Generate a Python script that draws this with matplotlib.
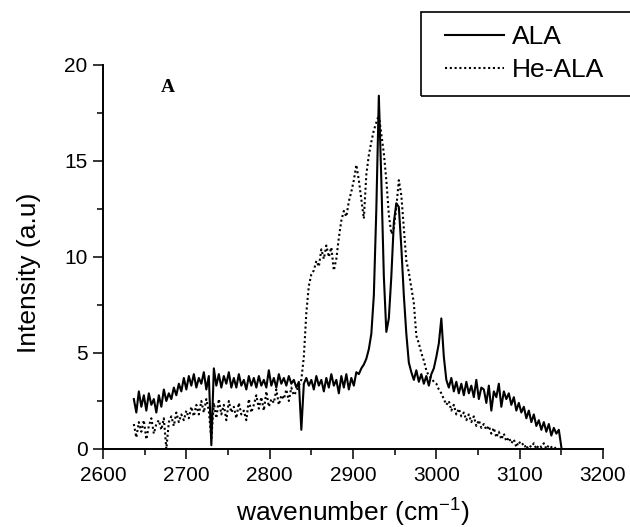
import matplotlib
matplotlib.use('Agg')
import matplotlib.pyplot as plt
from matplotlib.patches import Rectangle

plt.rcParams['font.family'] = ['Liberation Sans', 'DejaVu Sans']

wavenumber = list(range(2637, 3151, 3))

# ALA spectrum (solid line)
ala = [
    2.6, 1.9, 3.0, 2.2, 2.8, 2.0, 2.9, 2.3, 2.6, 1.9,
    2.8, 2.2, 3.1, 2.5, 2.9, 2.6, 3.2, 2.8, 3.4, 3.0,
    3.7, 3.1, 3.8, 3.3, 3.9, 3.2, 3.7, 3.4, 4.0, 3.1,
    3.8, 0.2, 4.2, 3.3, 3.9, 3.2, 3.8, 3.4, 4.0, 3.2,
    3.7, 3.2, 3.9, 3.3, 3.6, 3.1, 3.8, 3.3, 3.7, 3.2,
    3.8, 3.3, 3.6, 3.2, 4.1, 3.3, 3.7, 3.2, 3.9, 3.4,
    3.7, 3.3, 3.8, 3.4, 3.6, 3.2, 3.5, 1.0, 3.4, 3.7,
    3.3, 3.6, 3.1, 3.8, 3.3, 3.6, 3.0, 3.7, 3.2, 3.9,
    3.3, 3.6, 2.9, 3.8, 3.2, 3.9, 3.1, 3.7, 3.3, 4.0,
    3.9, 4.2, 4.4, 4.7, 5.2, 6.0, 8.0, 12.5, 18.4, 14.0,
    9.0, 6.1, 6.8, 9.0, 11.8, 12.8, 12.6, 10.5, 8.0, 6.0,
    4.5, 4.0, 3.6, 4.1, 3.5, 3.9, 3.4, 3.8, 3.3, 3.9,
    4.2, 4.8, 5.5, 6.8, 4.8, 3.6, 3.2, 3.7, 3.0, 3.5,
    2.9, 3.4, 2.8, 3.5, 2.9, 3.3, 2.7, 3.6, 2.6, 3.2,
    3.1, 2.4, 3.3, 2.0, 3.0, 2.7, 3.4, 2.2, 3.0, 2.6,
    2.9, 2.3, 2.7, 2.0, 2.4, 1.9, 2.2, 1.6, 2.0, 1.4,
    1.8, 1.2, 1.5, 1.0, 1.4, 0.9, 1.3, 0.7, 1.1, 0.8,
    1.0, 0.1,
]

# He-ALA spectrum (dotted line)
he_ala = [
    1.3, 0.6, 1.4, 0.9, 1.5, 0.5, 1.2, 1.6, 0.8, 1.3,
    1.5, 1.0, 1.6, 0.0, 1.4, 1.7, 1.2, 1.9, 1.4, 1.8,
    1.5, 2.0, 1.6, 2.2, 1.7, 2.3, 1.8, 2.5, 1.9, 2.6,
    2.0, 0.5, 2.4, 1.6, 2.6, 1.8, 2.3, 1.5, 2.5, 1.9,
    2.2, 1.6, 2.4, 1.8, 2.0, 1.5, 2.6, 1.9, 2.3, 2.8,
    2.1, 2.7, 2.0, 3.0, 2.2, 2.6, 2.4, 3.1, 2.3, 2.8,
    2.6, 3.1, 2.5, 3.2, 2.8, 3.0, 3.3, 3.6, 4.8, 7.1,
    8.5, 9.1, 9.3, 9.8, 9.5, 10.4, 9.9, 10.6, 10.0, 10.5,
    9.3, 9.9, 11.0, 11.9, 12.4, 12.1, 12.9, 13.4, 14.0, 14.8,
    14.0, 13.0, 12.0, 14.3, 15.3, 16.0, 16.6, 17.0, 17.4, 16.4,
    15.4, 14.0, 12.2, 11.2, 11.5, 12.6, 14.0, 13.2, 11.5, 9.8,
    9.2, 8.4, 7.6, 5.9, 5.5, 5.0, 4.6, 4.1, 3.8, 3.7,
    3.5, 3.4, 3.1, 2.9, 2.6, 2.3, 2.5, 2.0, 2.3, 1.8,
    2.1, 1.7, 1.9, 1.5, 1.8, 1.4, 1.7, 1.2, 1.5, 1.1,
    1.3, 1.0, 1.2, 0.8, 1.1, 0.6, 0.9, 0.5, 0.8, 0.4,
    0.6, 0.3, 0.5, 0.1, 0.4, 0.2, 0.3, 0.0, 0.2, 0.1,
    0.3, 0.0, 0.2, 0.1, 0.3, 0.0, 0.2, 0.1, 0.0, 0.1,
    0.0, 0.0,
]

fig = plt.figure(figsize=(6.3, 5.27), dpi=100)
ax = fig.add_axes([103/630, 78/527, 500/630, 384/527])

ax.plot(wavenumber, ala, color='black', lw=1.5, label='ALA')
ax.plot(wavenumber, he_ala, color='black', lw=1.5, linestyle=(0, (1, 1.3)),
        label='He-ALA')

ax.set_xlim(2600, 3200)
ax.set_ylim(0, 20)
ax.set_xticks(range(2600, 3201, 100))
ax.set_xticks(range(2650, 3200, 100), minor=True)
ax.set_yticks([0, 5, 10, 15, 20])
ax.set_yticks([2.5, 7.5, 12.5, 17.5], minor=True)

for s in ['top', 'right']:
    ax.spines[s].set_visible(False)
for s in ['left', 'bottom']:
    ax.spines[s].set_linewidth(1.4)

ax.tick_params(which='major', direction='out', length=7, width=1.1,
               labelsize=15)
ax.tick_params(axis='x', which='major', pad=5)
ax.tick_params(axis='y', which='major', pad=4)
ax.tick_params(which='minor', direction='out', length=4, width=1.1)

ax.set_xlabel('wavenumber (cm$^{\\mathregular{-1}}$)', fontsize=19)
ax.set_ylabel('Intensity (a.u)', fontsize=19)
ax.xaxis.set_label_coords(0.5, -0.12)
ax.yaxis.set_label_coords(-0.124, 0.46)

ax.text(2678, 18.85, 'A', fontsize=14, fontweight='bold',
        family=['Liberation Serif', 'DejaVu Serif'], ha='center', va='center')

leg = ax.legend(loc='upper left', bbox_to_anchor=(445/630, 1 - 25/527),
                bbox_transform=fig.transFigure, frameon=False, fontsize=19,
                borderpad=0, borderaxespad=0, handlelength=2.25,
                handletextpad=0.3, labelspacing=0.35)
fig.patches.append(Rectangle((421/630, 1 - 96/527), 0.4, 84/527,
                             transform=fig.transFigure, fill=False,
                             edgecolor='black', lw=1.2))

plt.savefig('out.png', dpi=100)
